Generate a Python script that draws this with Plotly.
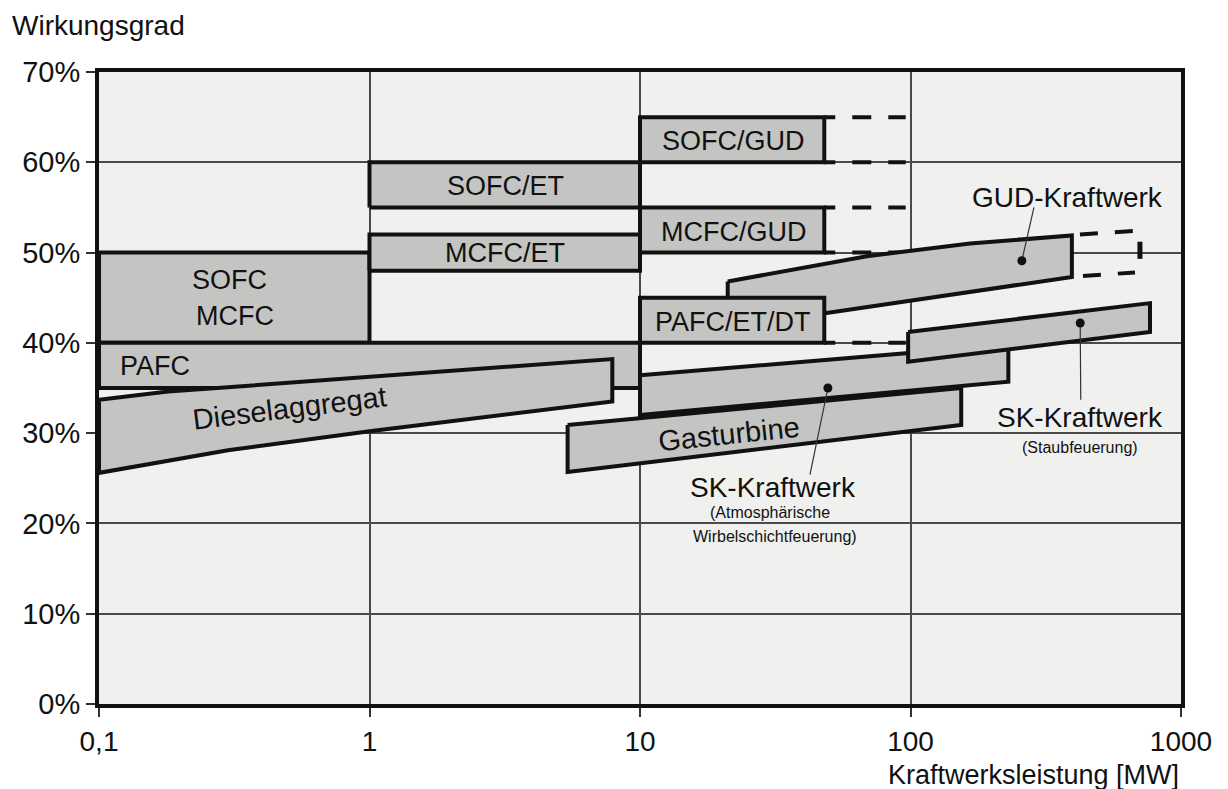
import math
import plotly.graph_objects as go

# ---------------- data ----------------
x_tickvals = [0.1, 1, 10, 100, 1000]
x_ticktext = ["0,1", "1", "10", "100", "1000"]
y_tickvals = [0, 10, 20, 30, 40, 50, 60, 70]
y_ticktext = ["0%", "10%", "20%", "30%", "40%", "50%", "60%", "70%"]

# rectangles (fuel-cell technologies): MW range and efficiency range (%)
box_names = ["SOFC/MCFC", "PAFC", "SOFC/ET", "MCFC/ET", "SOFC/GUD", "MCFC/GUD", "PAFC/ET/DT"]
box_x0 = [0.1, 0.1, 1, 1, 10, 10, 10]
box_x1 = [1, 10, 10, 10, 48, 48, 48]
box_y0 = [40, 35, 55, 48, 60, 50, 40]
box_y1 = [50, 40, 60, 52, 65, 55, 45]

# polygon bands
diesel_x = [0.1, 0.18, 7.9, 7.9, 1.0, 0.3, 0.1]
diesel_y = [33.7, 34.6, 38.2, 33.5, 30.2, 28.1, 25.6]
gas_x = [5.4, 154, 154, 5.4]
gas_y = [30.9, 35.0, 30.9, 25.7]
skatm_x = [10, 230, 230, 10]
skatm_y = [36.4, 39.8, 35.7, 32.0]
skstaub_x = [98, 768, 768, 98]
skstaub_y = [41.2, 44.4, 41.2, 37.9]
gud_x = [21.1, 39, 69, 166, 395, 395, 21.1]
gud_y = [46.8, 48.3, 49.6, 51.0, 51.9, 47.3, 41.7]

# dashed extensions of the fuel-cell/GUD boxes
ext_levels = [65, 60, 55, 50, 40]
ext_x = [48, 96]
gud_ext_top_x = [423, 665]
gud_ext_top_y = [52.0, 52.4]
gud_ext_bot_x = [434, 676]
gud_ext_bot_y = [47.4, 47.8]
gud_ext_edge_x = [705, 705]
gud_ext_edge_y = [49.3, 51.2]

# pointer dots and leader lines
ptr_x0 = [258, 49.5, 424]
ptr_y0 = [49.1, 35.0, 42.2]
ptr_x1 = [286, 42.5, 426]
ptr_y1 = [55.0, 25.4, 33.7]

# ---------------- styling ----------------
FONT = "Liberation Sans, Arial, sans-serif"
FILL = "#c4c4c2"
EDGE = "#111111"
LW = 4

fig = go.Figure()

def add_line(xs, ys, width=LW, dash=None, color=EDGE):
    fig.add_trace(go.Scatter(x=xs, y=ys, mode="lines",
                             line=dict(color=color, width=width, dash=dash),
                             hoverinfo="skip", showlegend=False))

def add_poly(xs, ys):
    fig.add_trace(go.Scatter(x=list(xs) + [xs[0]], y=list(ys) + [ys[0]], mode="lines",
                             fill="toself", fillcolor=FILL,
                             line=dict(color=EDGE, width=LW),
                             hoverinfo="skip", showlegend=False))

def add_box(i):
    x0, x1, y0, y1 = box_x0[i], box_x1[i], box_y0[i], box_y1[i]
    add_poly([x0, x1, x1, x0], [y0, y0, y1, y1])

# dashed extensions (under everything)
for lv in ext_levels:
    add_line(ext_x, [lv, lv], dash="11px,17px,19px,17px,19px")
add_line(gud_ext_top_x, gud_ext_top_y, dash="18px,17px,18px")
add_line(gud_ext_bot_x, gud_ext_bot_y, dash="18px,17px,18px")
add_line(gud_ext_edge_x, gud_ext_edge_y, width=5)

add_box(0)          # SOFC/MCFC
add_box(1)          # PAFC
add_poly(diesel_x, diesel_y)
add_box(2)          # SOFC/ET
add_box(3)          # MCFC/ET
add_box(4)          # SOFC/GUD
add_box(5)          # MCFC/GUD
add_poly(gud_x, gud_y)
add_box(6)          # PAFC/ET/DT
add_poly(skatm_x, skatm_y)
add_poly(gas_x, gas_y)
add_poly(skstaub_x, skstaub_y)

for i in range(len(ptr_x0)):
    add_line([ptr_x0[i], ptr_x1[i]], [ptr_y0[i], ptr_y1[i]], width=1.2, color="#333333")
fig.add_trace(go.Scatter(x=ptr_x0, y=ptr_y0, mode="markers",
                         marker=dict(color=EDGE, size=9),
                         hoverinfo="skip", showlegend=False))

# ---------------- labels ----------------
def lab(text, x, y, size=27, angle=0, align="center"):
    fig.add_annotation(x=math.log10(x), y=y, xref="x", yref="y", text=text,
                       showarrow=False, textangle=angle, align=align,
                       font=dict(family=FONT, size=size, color="#111111"))

lab("SOFC/GUD", 22.1, 62.4)
lab("SOFC/ET", 3.17, 57.4)
lab("MCFC/ET", 3.16, 50.0)
lab("MCFC/GUD", 22.1, 52.3)
lab("PAFC/ET/DT", 22.1, 42.3)
lab("SOFC", 0.303, 47.0)
lab("MCFC", 0.318, 43.0)
lab("PAFC", 0.161, 37.4)
lab("Dieselaggregat", 0.508, 32.8, size=29, angle=-7)
lab("Gasturbine", 21.3, 29.9, size=29, angle=-6)
lab("GUD-Kraftwerk", 379, 56.1, size=28)
lab("SK-Kraftwerk", 424, 31.7, size=28)
lab("(Staubfeuerung)", 424, 28.4, size=16)
lab("SK-Kraftwerk", 31.0, 24.0, size=28)
lab("(Atmosphärische", 30.2, 21.2, size=16)
lab("Wirbelschichtfeuerung)", 31.5, 18.5, size=16)

fig.add_annotation(x=-0.082, y=1.073, xref="paper", yref="paper", text="Wirkungsgrad",
                   showarrow=False, xanchor="left", yanchor="middle",
                   font=dict(family=FONT, size=28, color="#111111"))
fig.add_annotation(x=1.0, y=-0.113, xref="paper", yref="paper", text="Kraftwerksleistung [MW]",
                   showarrow=False, xanchor="right", yanchor="middle",
                   font=dict(family=FONT, size=27, color="#111111"))

axis_common = dict(showline=True, linewidth=4, linecolor=EDGE, mirror=True,
                   showgrid=True, gridcolor="#4a4a4a", gridwidth=1.5,
                   ticks="outside", ticklen=9, tickwidth=1.5, tickcolor="#333333",
                   zeroline=False)

fig.update_xaxes(type="log", range=[-1, 3], tickvals=x_tickvals, ticktext=x_ticktext,
                 tickfont=dict(family=FONT, size=28, color="#111111"), **axis_common)
fig.update_yaxes(range=[0, 70], tickvals=y_tickvals, ticktext=y_ticktext,
                 tickfont=dict(family=FONT, size=29, color="#111111"), **axis_common)

# the page adds an 8px body margin, so the figure is 8px smaller and shifted
fig.update_layout(width=1220, height=781, autosize=False,
                  margin=dict(l=91, r=47, t=64, b=85),
                  paper_bgcolor="white", plot_bgcolor="#f0f0ee",
                  showlegend=False)

fig.write_html("out.html")
